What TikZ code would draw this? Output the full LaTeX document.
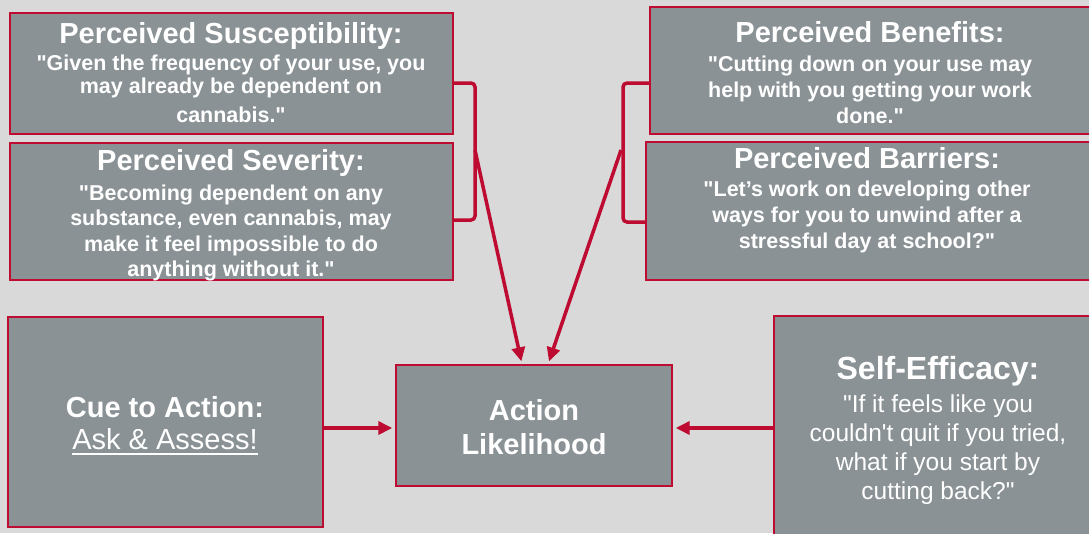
\documentclass[tikz,border=0pt]{standalone}
\usepackage{fontspec}
\setmainfont{Liberation Sans}[Ligatures=TeXOff]
\usetikzlibrary{arrows.meta}
\definecolor{bggray}{HTML}{D9D9D9}
\definecolor{boxgray}{HTML}{8A9295}
\definecolor{hbred}{HTML}{BE0B32}
\newcommand\askline[1]{\setbox0\hbox{#1}\rlap{\color{white}\rule[-5pt]{\wd0}{1.8pt}}\box0}

\begin{document}
\begin{tikzpicture}[x=1pt,y=-1pt,>={Triangle[length=14pt,width=13pt]},
    box/.style={draw=hbred,line width=1.4pt,fill=boxgray,inner sep=0pt},
    title/.style={text=white,inner sep=0pt,font=\bfseries\fontsize{29}{33}\selectfont},
    body/.style={text=white,inner sep=0pt,align=center,font=\bfseries\fontsize{21.5}{26}\selectfont},
    link/.style={draw=hbred,line width=3.5pt},
    arr/.style={link,->,shorten >=3pt}
    ]
  \useasboundingbox (0,0) rectangle (1089,533);
  \clip (0,0) rectangle (1089,533);
  \fill[bggray] (0,0) rectangle (1089,533);

  \node[box,minimum width=443pt,minimum height=121pt] (sus) at (231.5,73.5) {};
  \node[box,minimum width=443pt,minimum height=137pt] (sev) at (231.5,211.5) {};
  \node[box,minimum width=450pt,minimum height=127pt] (ben) at (875,70.5) {};
  \node[box,minimum width=454pt,minimum height=138pt] (bar) at (873,211) {};
  \node[box,minimum width=276pt,minimum height=121pt] (act) at (534,425.5) {};
  \node[box,minimum width=315pt,minimum height=210pt] (cue) at (165.5,422) {};
  \node[box,minimum width=330pt,minimum height=230pt] (self) at (939,431) {};

  \node[title] (sus-t) at (231,36) {Perceived Susceptibility:};
  \node[body,font=\bfseries\fontsize{21.5}{23}\selectfont] (sus-b) at (231,89)
    {"Given the frequency of your use, you\\ may already be dependent on\\[6pt] cannabis."};
  \node[title] (sev-t) at (231,162.5) {Perceived Severity:};
  \node[body,font=\bfseries\fontsize{21.5}{25.5}\selectfont] (sev-b) at (231,233)
    {"Becoming dependent on any\\ substance, even cannabis, may\\ make it feel impossible to do\\ anything without it."};
  \node[title] (ben-t) at (870,32.5) {Perceived Benefits:};
  \node[body] (ben-b) at (870,89.5)
    {"Cutting down on your use may\\ help with you getting your work\\ done."};
  \node[title] (bar-t) at (867,158.5) {Perceived Barriers:};
  \node[body] (bar-b) at (867,217)
    {"Let’s work on developing other\\ ways for you to unwind after a\\ stressful day at school?"};
  \node[text=white,inner sep=0pt,align=center,font=\bfseries\fontsize{29}{34}\selectfont] (act-t) at (534,427)
    {Action\\ Likelihood};
  \node[title] (cue-t) at (165,407) {Cue to Action:};
  \node[text=white,inner sep=0pt,font=\fontsize{29}{33}\selectfont] (cue-b) at (165,441.5) {\askline{Ask \& Assess!}};
  \node[title,font=\bfseries\fontsize{32}{36}\selectfont] (self-t) at (938,371.5) {Self-Efficacy:};
  \node[body,font=\fontsize{24.5}{29}\selectfont] (self-b) at (938,449.5)
    {"If it feels like you\\ couldn't quit if you tried,\\ what if you start by\\ cutting back?"};

  \draw[link,rounded corners=4pt] (sus.east |- 0,83) -- (475,83) -- (475,220) -- (sev.east |- 0,220);
  \draw[link,rounded corners=4pt] (ben.west |- 0,83) -- (623,83) -- (623,222) -- (bar.west |- 0,222);
  \coordinate (lbr) at (475,150);
  \coordinate (rbr) at (621,150);

  \draw[arr] (lbr) -- ([xshift=-12pt]act.north);
  \draw[arr] (rbr) -- ([xshift=14pt]act.north);
  \draw[arr] (cue.east |- 0,428) -- (act.west |- 0,428);
  \draw[arr] (self.west |- 0,428) -- (act.east |- 0,428);
\end{tikzpicture}
\end{document}
